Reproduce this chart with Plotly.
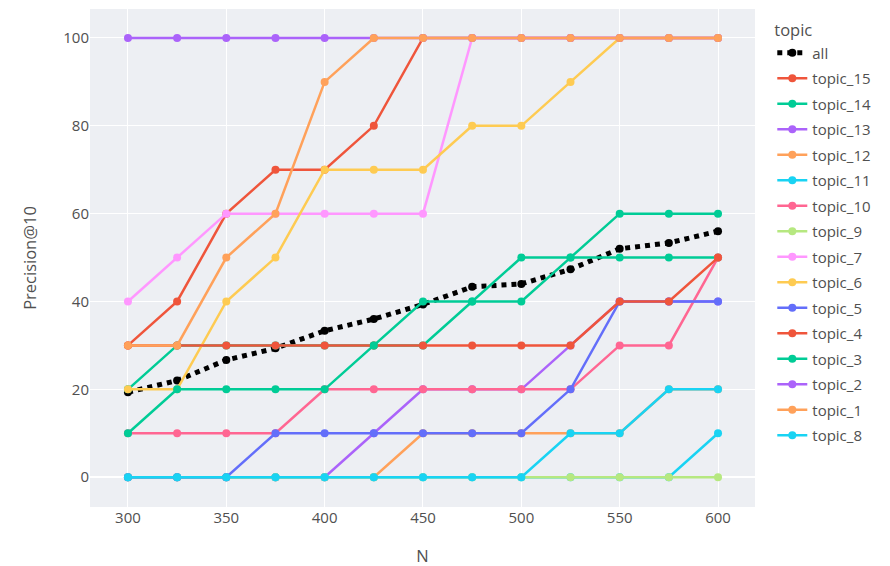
import plotly.graph_objects as go

N = [300, 325, 350, 375, 400, 425, 450, 475, 500, 525, 550, 575, 600]

all_topics = [19.33, 22.0, 26.67, 29.33, 33.33, 36.0, 39.33, 43.33, 44.0, 47.33, 52.0, 53.33, 56.0]
topic_15 = [30, 40, 60, 70, 70, 80, 100, 100, 100, 100, 100, 100, 100]
topic_14 = [20, 30, 30, 30, 30, 30, 30, 40, 50, 50, 50, 50, 50]
topic_13 = [0, 0, 0, 0, 0, 10, 20, 20, 20, 30, 40, 40, 40]
topic_12 = [0, 0, 0, 0, 0, 0, 10, 10, 10, 10, 10, 20, 20]
topic_11 = [0, 0, 0, 0, 0, 0, 0, 0, 0, 0, 0, 0, 10]
topic_10 = [10, 10, 10, 10, 20, 20, 20, 20, 20, 20, 30, 30, 50]
topic_9 = [0, 0, 0, 0, 0, 0, 0, 0, 0, 0, 0, 0, 0]
topic_7 = [40, 50, 60, 60, 60, 60, 60, 100, 100, 100, 100, 100, 100]
topic_6 = [20, 20, 40, 50, 70, 70, 70, 80, 80, 90, 100, 100, 100]
topic_5 = [0, 0, 0, 10, 10, 10, 10, 10, 10, 20, 40, 40, 40]
topic_4 = [30, 30, 30, 30, 30, 30, 30, 30, 30, 30, 40, 40, 50]
topic_3 = [10, 20, 20, 20, 20, 30, 40, 40, 40, 50, 60, 60, 60]
topic_2 = [100, 100, 100, 100, 100, 100, 100, 100, 100, 100, 100, 100, 100]
topic_1 = [30, 30, 50, 60, 90, 100, 100, 100, 100, 100, 100, 100, 100]
topic_8 = [0, 0, 0, 0, 0, 0, 0, 0, 0, 10, 10, 20, 20]

series = [
    ("topic_15", topic_15, "#EF553B"),
    ("topic_14", topic_14, "#00CC96"),
    ("topic_13", topic_13, "#AB63FA"),
    ("topic_12", topic_12, "#FFA15A"),
    ("topic_11", topic_11, "#19D3F3"),
    ("topic_10", topic_10, "#FF6692"),
    ("topic_9", topic_9, "#B6E880"),
    ("topic_7", topic_7, "#FF97FF"),
    ("topic_6", topic_6, "#FECB52"),
    ("topic_5", topic_5, "#636EFA"),
    ("topic_4", topic_4, "#EF553B"),
    ("topic_3", topic_3, "#00CC96"),
    ("topic_2", topic_2, "#AB63FA"),
    ("topic_1", topic_1, "#FFA15A"),
    ("topic_8", topic_8, "#19D3F3"),
]

fig = go.Figure()
fig.add_trace(go.Scatter(
    x=N, y=all_topics, name="all", mode="lines+markers", legendgroup="all",
    line=dict(color="black", width=5, dash="dot"),
    marker=dict(color="black", size=8),
))
for name, vals, color in series:
    fig.add_trace(go.Scatter(
        x=N, y=vals, name=name, mode="lines+markers", legendgroup=name,
        line=dict(color=color, width=2.5),
        marker=dict(color=color, size=8),
    ))

fig.update_layout(
    width=890, height=566,
    margin=dict(l=82, r=143, t=1, b=67),
    font=dict(size=15, color="#505050"),
    plot_bgcolor="#EDEFF3",
    legend=dict(title=dict(text="topic", font=dict(size=16.5)), font=dict(size=15),
                tracegroupgap=3, x=1.026, y=0.988),
    xaxis=dict(title=dict(text="N", font=dict(size=16.5), standoff=24), range=[280.7, 618.8],
               tickvals=[300, 350, 400, 450, 500, 550, 600]),
    yaxis=dict(title=dict(text="Precision@10", font=dict(size=16.5), standoff=22), range=[-6.8, 106.6],
               tickvals=[0, 20, 40, 60, 80, 100]),
)

fig.write_html("out.html")
